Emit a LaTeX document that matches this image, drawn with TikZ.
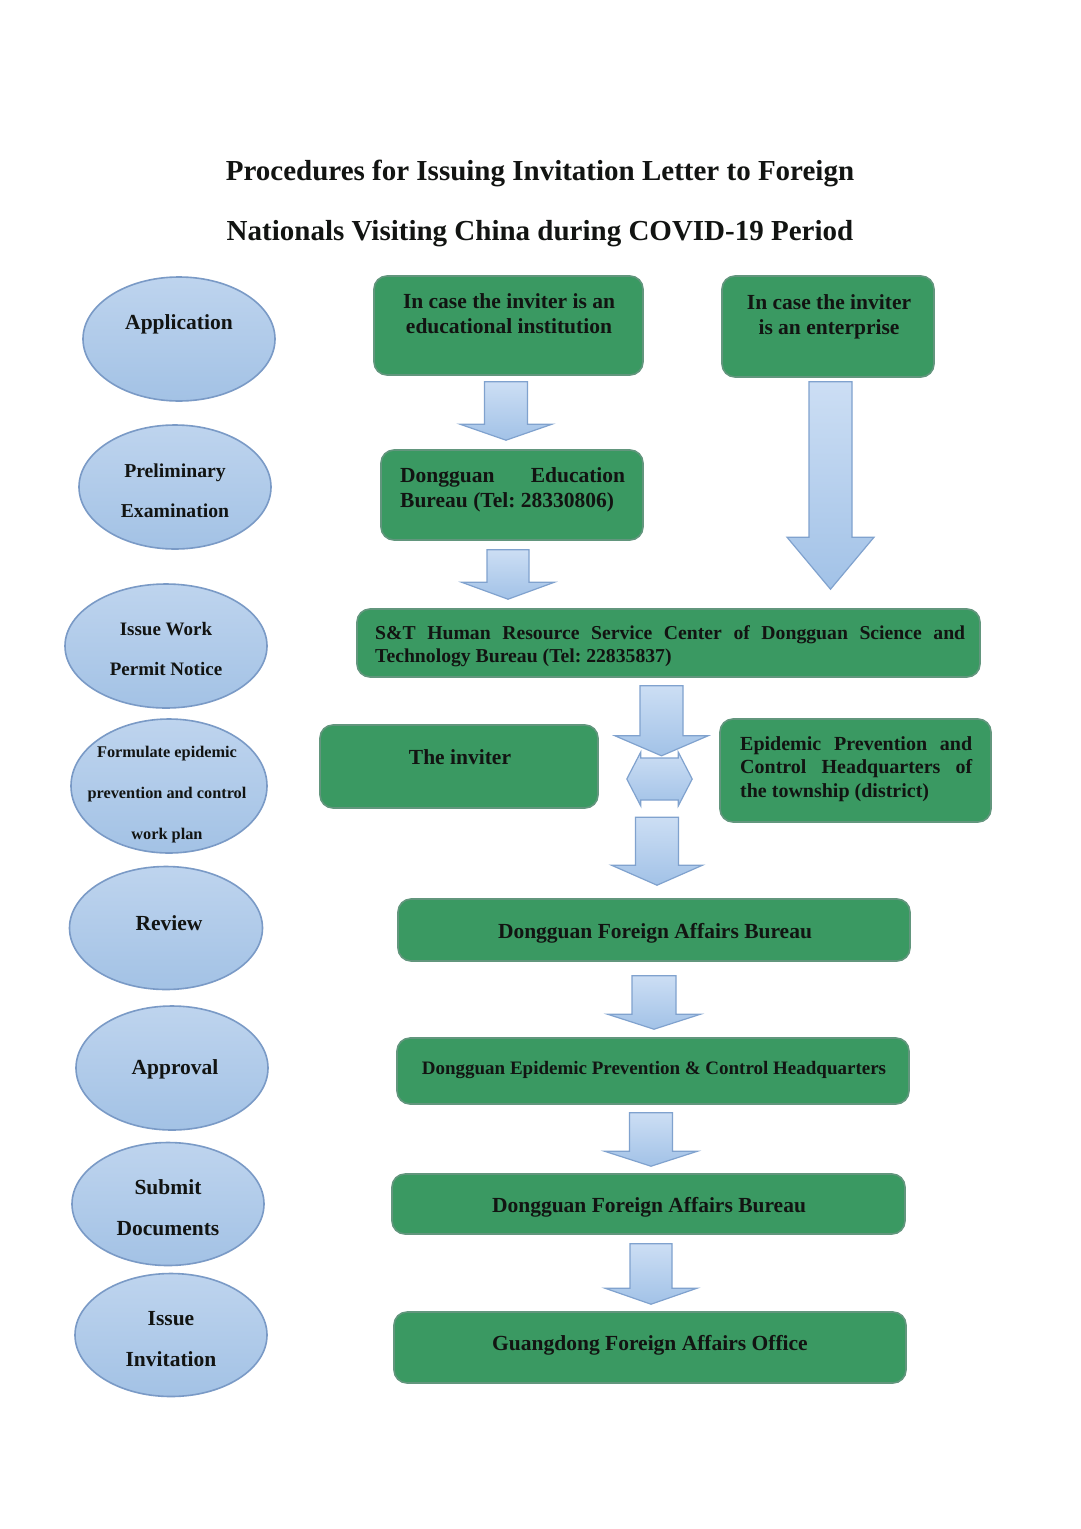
\documentclass[tikz,border=0pt]{standalone}
\usepackage{fontspec}
\setmainfont{Liberation Serif}
\frenchspacing
\usetikzlibrary{shapes.geometric,calc}
\definecolor{ellT}{RGB}{190,212,238}
\definecolor{ellB}{RGB}{163,194,229}
\definecolor{elldraw}{RGB}{122,154,198}
\definecolor{gfill}{RGB}{58,153,98}
\definecolor{gdraw}{RGB}{98,150,125}
\definecolor{arrT}{RGB}{204,222,244}
\definecolor{arrB}{RGB}{162,194,231}
\definecolor{arrdraw}{RGB}{128,162,206}
\definecolor{txt}{RGB}{18,20,18}
\newcommand\blockdown[5]{%
  \path[blockarrow] let \p1=(#1), \p2=(#2) in
    ({\x1-#3pt},\y1) -- ({\x1+#3pt},\y1) -- ({\x1+#3pt},{\y2+#5pt}) --
    ({\x1+#4pt},{\y2+#5pt}) -- (\x1,\y2) -- ({\x1-#4pt},{\y2+#5pt}) --
    ({\x1-#3pt},{\y2+#5pt}) -- cycle;}
\newcommand\blocklr[5]{%
  \path[blockarrow] let \p1=(#1), \p2=(#2) in
    (\x1,\y1) -- ({\x1+#5pt},{\y1+#4pt}) -- ({\x1+#5pt},{\y1+#3pt}) --
    ({\x2-#5pt},{\y1+#3pt}) -- ({\x2-#5pt},{\y1+#4pt}) -- (\x2,\y1) --
    ({\x2-#5pt},{\y1-#4pt}) -- ({\x2-#5pt},{\y1-#3pt}) --
    ({\x1+#5pt},{\y1-#3pt}) -- ({\x1+#5pt},{\y1-#4pt}) -- cycle;}
\begin{document}
\begin{tikzpicture}[x=1pt,y=-1pt,
  stage/.style={ellipse, draw=elldraw, line width=1.6pt, top color=ellT, bottom color=ellB, inner sep=0pt},
  gbox/.style={rectangle, rounded corners=13pt, fill=gfill, draw=gdraw, line width=1.6pt, inner sep=0pt},
  blockarrow/.style={draw=arrdraw, line width=1.2pt, top color=arrT, bottom color=arrB},
  lbl/.style={text=txt, inner sep=0pt, anchor=base, align=center},
  jlbl/.style={text=txt, inner sep=0pt, anchor=base west, align=justify},
  fbig/.style={font=\fontsize{21.5}{25}\bfseries\selectfont},
  estage/.style={font=\fontsize{21.5}{41}\bfseries\selectfont},
]
\useasboundingbox (0,0) rectangle (1080,1529);
\fill[white] (0,0) rectangle (1080,1529);

% title (base anchor = last line)
\node[lbl, font=\fontsize{29}{60}\bfseries\selectfont] (title) at (540,240)
  {Procedures for Issuing Invitation Letter to Foreign\\Nationals Visiting China during COVID-19 Period};

% stage ellipses
\node[stage, minimum width=192, minimum height=124] (s1) at (179,339) {};
\node[stage, minimum width=192, minimum height=124] (s2) at (175,487) {};
\node[stage, minimum width=202, minimum height=124] (s3) at (166,646) {};
\node[stage, minimum width=196, minimum height=134] (s4) at (169,786) {};
\node[stage, minimum width=193, minimum height=123] (s5) at (166,928) {};
\node[stage, minimum width=192, minimum height=124] (s6) at (172,1068) {};
\node[stage, minimum width=192, minimum height=123] (s7) at (168,1204) {};
\node[stage, minimum width=192, minimum height=123] (s8) at (171,1335) {};

\node[lbl, estage] (t1) at (179,329) {Application};
\node[lbl, font=\fontsize{19.7}{40}\bfseries\selectfont] (t2) at (175,517) {Preliminary\\Examination};
\node[lbl, font=\fontsize{19}{40}\bfseries\selectfont] (t3) at (166,675) {Issue Work\\Permit Notice};
\node[lbl, font=\fontsize{16.3}{41}\bfseries\selectfont] (t4) at (167,839) {Formulate epidemic\\prevention and control\\work plan};
\node[lbl, estage] (t5) at (169,930) {Review};
\node[lbl, estage] (t6) at (175,1074) {Approval};
\node[lbl, estage] (t7) at (168,1235) {Submit\\Documents};
\node[lbl, estage] (t8) at (171,1366) {Issue\\Invitation};

% green boxes
\node[gbox, minimum width=269, minimum height=99] (A) at (508.5,325.5) {};
\node[gbox, minimum width=212, minimum height=101] (B) at (828,326.5) {};
\node[gbox, minimum width=262, minimum height=90] (C) at (512,495) {};
\node[gbox, minimum width=623, minimum height=68] (D) at (668.5,643) {};
\node[gbox, minimum width=278, minimum height=83] (E) at (459,766.5) {};
\node[gbox, minimum width=271, minimum height=103] (F) at (855.5,770.5) {};
\node[gbox, minimum width=512, minimum height=62] (G) at (654,930) {};
\node[gbox, minimum width=512, minimum height=66] (H) at (653,1071) {};
\node[gbox, minimum width=513, minimum height=60] (I) at (648.5,1204) {};
\node[gbox, minimum width=512, minimum height=71] (J) at (650,1347.5) {};

\node[lbl, fbig] (tA) at (509,333) {In case the inviter is an\\educational institution};
\node[lbl, fbig] (tB) at (829,334) {In case the inviter\\is an enterprise};
\node[jlbl, fbig, text width=225] (tC) at (400,482) {Dongguan Education\linebreak Bureau (Tel: 28330806)};
\node[jlbl, font=\fontsize{19.7}{23}\bfseries\selectfont, text width=590] (tD) at (375,639)
  {S\&T Human Resource Service Center of Dongguan Science and\linebreak Technology Bureau (Tel: 22835837)};
\node[lbl, fbig] (tE) at (460,764) {The inviter};
\node[jlbl, font=\fontsize{20}{23.5}\bfseries\selectfont, text width=232] (tF) at (740,750)
  {Epidemic Prevention and\linebreak Control Headquarters of\linebreak the township (district)};
\node[lbl, fbig] (tG) at (655,938) {Dongguan Foreign Affairs Bureau};
\node[lbl, font=\fontsize{19}{23}\bfseries\selectfont] (tH) at (654,1074) {Dongguan Epidemic Prevention \& Control Headquarters};
\node[lbl, fbig] (tI) at (649,1212) {Dongguan Foreign Affairs Bureau};
\node[lbl, fbig] (tJ) at (650,1350) {Guangdong Foreign Affairs Office};

% arrow end points
\coordinate (a1s) at ($(A.south)+(-2.5,6)$);
\coordinate (a1t) at ($(C.north)+(-6,-9)$);
\coordinate (a2s) at ($(C.south)+(-4,9)$);
\coordinate (a2t) at ($(D.north)+(-160,-9)$);
\coordinate (a3s) at ($(B.south)+(2.5,4)$);
\coordinate (a3t) at ($(D.north)+(162,-19)$);
\coordinate (a4s) at ($(D.south)+(-7,8)$);
\coordinate (a4t) at ($(D.south)+(-7,78)$);
\coordinate (lrL) at ($(E.east)+(28,12.5)$);
\coordinate (lrR) at ($(F.west)+(-27,8.5)$);
\coordinate (a6s) at ($(G.north)+(3,-81)$);
\coordinate (a6t) at ($(G.north)+(3,-13)$);
\coordinate (a7s) at ($(G.south)+(0,14)$);
\coordinate (a7t) at ($(H.north)+(1,-8)$);
\coordinate (a8s) at ($(H.south)+(-2,8)$);
\coordinate (a8t) at ($(I.north)+(2.5,-7)$);
\coordinate (a9s) at ($(I.south)+(2.5,9)$);
\coordinate (a9t) at ($(J.north)+(1,-7)$);

\blockdown{a1s}{a1t}{21.5}{46}{16}
\blockdown{a2s}{a2t}{21}{46.5}{17}
\blockdown{a3s}{a3t}{21.5}{43.5}{52}
\blockdown{a4s}{a4t}{21.5}{46.5}{20}
\blocklr{lrL}{lrR}{21}{27}{14}
\blockdown{a6s}{a6t}{21.5}{45.5}{20}
\blockdown{a7s}{a7t}{22}{46.5}{15}
\blockdown{a8s}{a8t}{21.5}{46.5}{15}
\blockdown{a9s}{a9t}{21}{46}{16}
\end{tikzpicture}
\end{document}
